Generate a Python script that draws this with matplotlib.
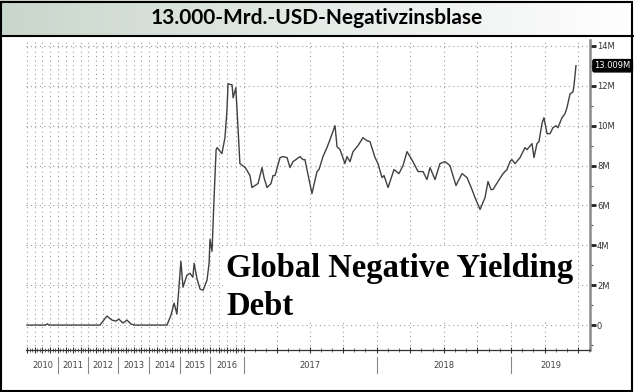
import numpy as np
import matplotlib
matplotlib.use("Agg")
import matplotlib.pyplot as plt
from matplotlib.patches import Rectangle
from matplotlib.lines import Line2D
import matplotlib.transforms as mtransforms

# ---------------- data (decimal year, value in millions) ----------------
years = [2010.00, 2010.60, 2010.65, 2010.72, 2012.40, 2012.50, 2012.63, 2012.80, 2012.93, 2013.03, 2013.16,
         2013.29, 2013.42, 2013.55, 2014.58, 2014.71, 2014.81, 2014.90, 2015.03, 2015.10,
         2015.23, 2015.33, 2015.43, 2015.47, 2015.57, 2015.67, 2015.77, 2015.90, 2015.97,
         2016.00, 2016.06, 2016.12, 2016.18, 2016.21, 2016.35, 2016.44, 2016.50, 2016.53,
         2016.65, 2016.68, 2016.76, 2016.88, 2017.01, 2017.045, 2017.06, 2017.106, 2017.136,
         2017.151, 2017.174, 2017.204, 2017.219, 2017.234, 2017.272, 2017.294, 2017.325,
         2017.347, 2017.370, 2017.423, 2017.445, 2017.460, 2017.475, 2017.513, 2017.551,
         2017.566, 2017.596, 2017.626, 2017.649, 2017.687, 2017.702, 2017.725, 2017.762,
         2017.777, 2017.800, 2017.823, 2017.860, 2017.898, 2017.928, 2017.951, 2017.989,
         2018.011, 2018.041, 2018.056, 2018.086, 2018.130, 2018.167, 2018.197, 2018.227,
         2018.271, 2018.309, 2018.346, 2018.375, 2018.398, 2018.435, 2018.472, 2018.509,
         2018.546, 2018.591, 2018.636, 2018.673, 2018.710, 2018.732, 2018.770, 2018.807,
         2018.829, 2018.851, 2018.866, 2018.903, 2018.941, 2018.970, 2018.993, 2019.007,
         2019.030, 2019.067, 2019.104, 2019.119, 2019.156, 2019.171, 2019.193, 2019.208,
         2019.230, 2019.245, 2019.268, 2019.290, 2019.312, 2019.335, 2019.349, 2019.379,
         2019.401, 2019.416, 2019.439, 2019.461, 2019.468, 2019.483]
values = [0.0, 0.0, 0.06, 0.0, 0.0, 0.2, 0.45, 0.25, 0.2, 0.3, 0.1,
          0.25, 0.05, 0.0, 0.0, 0.5, 1.1, 0.55, 3.2, 1.9,
          2.5, 2.6, 2.4, 3.1, 2.3, 1.8, 1.75, 2.25, 3.1,
          4.3, 3.7, 6.4, 8.8, 8.9, 8.6, 9.4, 10.8, 12.1,
          12.05, 11.4, 11.9, 8.1, 7.9, 7.5, 6.9, 7.1, 7.9,
          7.4, 6.9, 7.1, 7.5, 7.5, 8.4, 8.45, 8.4,
          7.9, 8.2, 8.45, 8.3, 8.3, 7.8, 6.6, 7.7,
          7.8, 8.45, 8.9, 9.3, 10.0, 8.95, 8.8, 8.1,
          8.45, 8.2, 8.7, 9.0, 9.4, 9.25, 9.2, 8.4,
          8.1, 7.4, 7.5, 6.9, 7.8, 7.6, 8.0, 8.7,
          8.2, 7.7, 7.7, 7.3, 7.9, 7.3, 8.1, 8.2,
          8.0, 7.0, 7.6, 7.4, 6.8, 6.4, 5.8, 6.4,
          7.2, 6.8, 6.8, 7.2, 7.6, 7.8, 8.2, 8.3,
          8.1, 8.4, 8.9, 8.8, 9.1, 8.4, 9.1, 9.2,
          10.1, 10.4, 9.6, 9.6, 9.9, 10.0, 9.9, 10.4,
          10.6, 10.9, 11.6, 11.7, 12.0, 13.009]

year_labels = ["2010", "2011", "2012", "2013", "2014", "2015", "2016", "2017", "2018", "2019"]
y_ticks = [0, 2, 4, 6, 8, 10, 12, 14]
y_tick_labels = ["0", "2M", "4M", "6M", "8M", "10M", "12M", "14M"]
last_label = "13.009M"
title = "13.000-Mrd.-USD-Negativzinsblase"
overlay_lines = ["Global Negative Yielding", "Debt"]

# ---------------- non-uniform time scale (Bloomberg style) ----------------
knot_years = np.array([2009, 2010, 2011, 2012, 2013, 2014, 2015, 2016, 2017, 2018, 2019, 2020], float)
knot_pos = np.array([-4, 27, 58, 88, 118, 149, 180, 210, 244, 376.5, 511, 645.5], float)

def fwd(x):
    return np.interp(x, knot_years, knot_pos)

def inv(p):
    return np.interp(p, knot_pos, knot_years)

W, H = 634, 392
fig = plt.figure(figsize=(W / 100, H / 100), dpi=100)
fig.patch.set_facecolor("white")

# Title band with gradient
tax = fig.add_axes([0, 1 - 35 / H, 1, 35 / H])
grad = np.linspace(0, 1, 256)
c0 = np.array([0.79, 0.84, 0.80])
c1 = np.array([1.0, 1.0, 1.0])
img = (c0[None, :] * (1 - grad[:, None]) + c1[None, :] * grad[:, None])[None, :, :]
tax.imshow(img, aspect="auto", extent=[0, 1, 0, 1])
tax.set_xlim(0, 1); tax.set_ylim(0, 1)
tax.axis("off")
tax.text(0.5, 0.48, title, ha="center", va="center", fontsize=15, fontweight="bold",
         family=["Lato", "DejaVu Sans"], color="black")

# borders
fig.add_artist(Rectangle((1 / W, 1 / H), 1 - 3 / W, 1 - 3 / H, transform=fig.transFigure,
                         fill=False, ec="black", lw=1.5))
fig.add_artist(Line2D([0, 1], [1 - 35.5 / H] * 2, transform=fig.transFigure, color="black", lw=1.5))

# main axes
x0, x1 = 26, 590
y0, y1 = 40, 350
ax = fig.add_axes([x0 / W, 1 - y1 / H, (x1 - x0) / W, (y1 - y0) / H])
ax.set_xscale("function", functions=(fwd, inv))
ax.set_xlim(inv(x0), inv(x1))
ax.set_ylim(-1.25, 14.3)

ax.plot(years, values, color="#404040", lw=1.0, zorder=3)

# grid
quarters = np.arange(2010, 2019.6, 0.25)
ax.set_xticks(quarters)
ax.set_xticklabels([])
months = np.arange(2010, 2019.6, 1 / 12)
ax.set_xticks(months, minor=True)
ax.tick_params(axis="x", which="major", direction="inout", length=5, width=0.8, color="#333")
ax.tick_params(axis="x", which="minor", direction="inout", length=3, width=0.6, color="#555")
for q in quarters:
    ax.axvline(q, color="#9a9a9a", lw=0.8, ls=(0, (1, 3)), zorder=1)
for v in y_ticks:
    ax.axhline(v, color="#9a9a9a", lw=0.8, ls=(0, (1, 3)), zorder=1)

ax.yaxis.tick_right()
ax.set_yticks(y_ticks)
ax.set_yticklabels(y_tick_labels)
ax.set_yticks(np.arange(-1, 14.5, 1), minor=True)
ax.tick_params(axis="y", which="major", direction="out", length=4, width=2, color="#222",
               labelsize=6, labelcolor="#333", pad=1)
ax.tick_params(axis="y", which="minor", direction="out", length=2, width=0.8, color="#555")
for s in ["left", "top"]:
    ax.spines[s].set_visible(False)
ax.spines["right"].set_color("#8a8a8a")
ax.spines["right"].set_linewidth(1.8)
ax.spines["bottom"].set_color("#333")
ax.spines["bottom"].set_linewidth(0.9)

# year labels and separators
trans = mtransforms.blended_transform_factory(ax.transData, ax.transAxes)
xmax = ax.get_xlim()[1]
label_y = -(366 - y1) / (y1 - y0)
for i, lab in enumerate(year_labels):
    yr = 2010 + i
    end = min(yr + 1, xmax)
    mid = inv((fwd(yr) + fwd(end)) / 2)
    ax.text(mid, label_y, lab, transform=trans, ha="center", va="center",
            fontsize=6, color="#444")
    if yr + 1 <= xmax:
        ax.add_line(Line2D([yr + 1, yr + 1], [-(357 - y1) / (y1 - y0), -(373 - y1) / (y1 - y0)],
                           transform=trans, color="#888", lw=0.8, clip_on=False))

# last value tag
transy = mtransforms.blended_transform_factory(ax.transAxes, ax.transData)
ax.text(1.008, values[-1], last_label, transform=transy, ha="left", va="center", fontsize=6,
        color="white", bbox=dict(boxstyle="round,pad=0.2", fc="black", ec="black"), zorder=5)

# overlay text on a white panel
fig.add_artist(Rectangle((223 / W, 1 - 321 / H), (578 - 223) / W, (321 - 246) / H,
                         transform=fig.transFigure, fc="white", ec="none", zorder=9))
for txt, base in zip(overlay_lines, [277, 315]):
    fig.text(226 / W, 1 - base / H, txt, ha="left", va="baseline", fontsize=23.5,
             fontweight="bold", family=["Liberation Serif", "DejaVu Serif"], color="black",
             zorder=10)

fig.savefig("out.png", dpi=100, facecolor="white")
